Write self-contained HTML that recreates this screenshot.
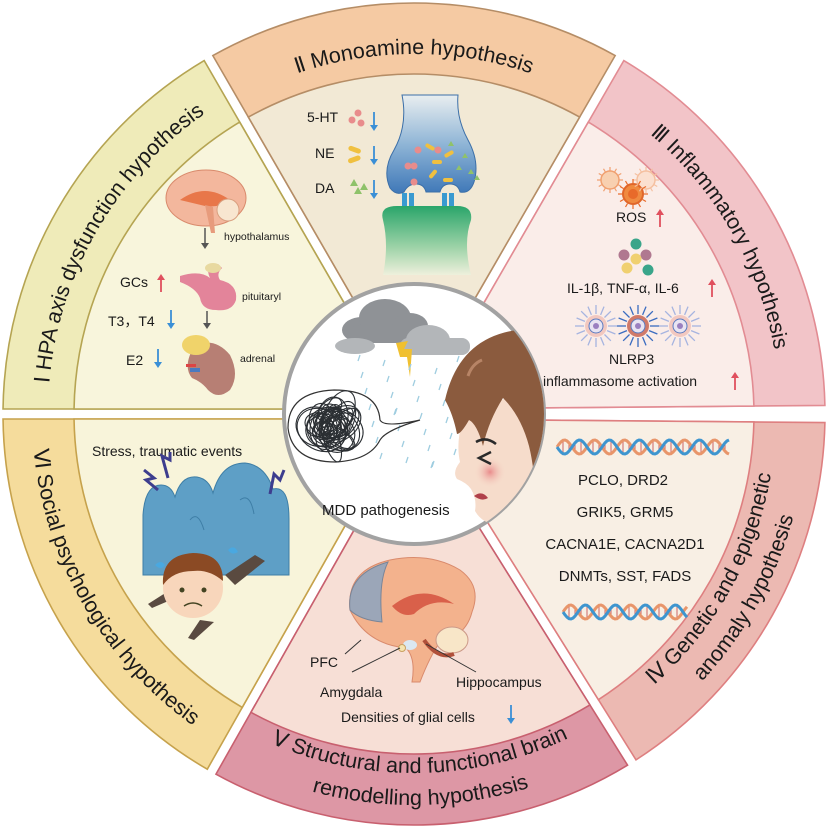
<!DOCTYPE html>
<html><head><meta charset="utf-8">
<style>
html,body{margin:0;padding:0;background:#fff;}
svg{display:block;}
text{font-family:"Liberation Sans","DejaVu Sans",sans-serif;fill:#1a1a1a;}
.t{font-size:21.5px;}
.c{font-size:14px;}
.s{font-size:10.5px;}
</style></head><body>
<svg id="sv" width="830" height="830" viewBox="0 0 830 830" xmlns="http://www.w3.org/2000/svg">
<defs>
<linearGradient id="pre" x1="0" y1="0" x2="0" y2="1"><stop offset="0" stop-color="#e9eef0"/><stop offset="0.5" stop-color="#8fb5d6"/><stop offset="1" stop-color="#3f78b8"/></linearGradient>
<linearGradient id="post" x1="0" y1="0" x2="0" y2="1"><stop offset="0" stop-color="#2aa56a"/><stop offset="0.6" stop-color="#9ed3a8"/><stop offset="1" stop-color="#eef0dc"/></linearGradient>
<radialGradient id="cheek"><stop offset="0" stop-color="#e98b8b"/><stop offset="1" stop-color="#f6dccb" stop-opacity="0"/></radialGradient>
<clipPath id="cc"><circle cx="414" cy="414" r="130"/></clipPath>
</defs>
<g id="sectors"></g>
<g id="titles"></g>

<!-- I HPA content -->
<g>
<ellipse cx="206" cy="198" rx="40" ry="28" fill="#f3b79d" stroke="#d98a6c" stroke-width="1"/>
<path d="M180 200 q25 -18 50 0 q-10 8 -25 6z" fill="#e8774a"/>
<circle cx="228" cy="210" r="11" fill="#f8e6d0" stroke="#d9a080"/>
<path d="M205 205 l6 28 l4 0 l-2 -26z" fill="#e79b7c"/>
<line x1="205" y1="228" x2="205" y2="245" stroke="#555" stroke-width="1.5"/><path d="M201 243 l4 6 l4 -6z" fill="#555"/>
<text class="s" x="224" y="240">hypothalamus</text>
<path d="M180 276 q20 -6 30 2 q-6 -12 8 -14 l4 4 q-6 6 -2 12 q18 4 16 20 q-4 12 -20 10 q-14 0 -16 -12 q-4 -10 -20 -16z" fill="#e3849a"/>
<ellipse cx="213" cy="268" rx="8" ry="5" fill="#e8d9a0"/>
<text class="s" x="242" y="300">pituitaryl</text>
<line x1="207" y1="311" x2="207" y2="325" stroke="#555" stroke-width="1.5"/><path d="M203 323 l4 6 l4 -6z" fill="#555"/>
<path d="M195 345 q20 -8 35 10 q10 20 0 35 q-12 10 -22 0 q-6 -8 -16 -12 q-10 -12 3 -33z" fill="#b77f74"/>
<ellipse cx="196" cy="345" rx="14" ry="10" fill="#f0d36a"/>
<rect x="190" y="368" width="10" height="4" fill="#4a7ac0"/><rect x="186" y="364" width="10" height="3" fill="#d44"/>
<text class="s" x="240" y="362">adrenal</text>
<text class="c" x="120" y="287">GCs</text><path d="M161 292 v-16" stroke="#e0505e" stroke-width="1.8"/><path d="M157 280 l4 -6 l4 6z" fill="#e0505e"/>
<text class="c" x="108" y="326">T3，T4</text><path d="M171 310 v16" stroke="#3a8fd6" stroke-width="1.8"/><path d="M167 323 l4 6 l4 -6z" fill="#3a8fd6"/>
<text class="c" x="126" y="365">E2</text><path d="M158 349 v16" stroke="#3a8fd6" stroke-width="1.8"/><path d="M154 362 l4 6 l4 -6z" fill="#3a8fd6"/>
</g>

<!-- II Monoamine content -->
<g>
<text class="c" x="307" y="122">5-HT</text>
<circle cx="352" cy="120" r="3.5" fill="#e88c8c"/><circle cx="358" cy="113" r="3.5" fill="#e88c8c"/><circle cx="361" cy="123" r="3.5" fill="#e88c8c"/>
<path d="M374 112 v16" stroke="#3a8fd6" stroke-width="1.8"/><path d="M370 125 l4 6 l4 -6z" fill="#3a8fd6"/>
<text class="c" x="315" y="158">NE</text>
<rect x="348" y="147" width="13" height="5" rx="2.5" fill="#f0c040" transform="rotate(20 354 150)"/><rect x="348" y="157" width="13" height="5" rx="2.5" fill="#f0c040" transform="rotate(-20 354 160)"/>
<path d="M374 146 v16" stroke="#3a8fd6" stroke-width="1.8"/><path d="M370 159 l4 6 l4 -6z" fill="#3a8fd6"/>
<text class="c" x="315" y="193">DA</text>
<path d="M350 186 l4 -7 l4 7z M354 194 l4 -7 l4 7z M360 190 l4 -7 l4 7z" fill="#8fc26a"/>
<path d="M374 180 v16" stroke="#3a8fd6" stroke-width="1.8"/><path d="M370 193 l4 6 l4 -6z" fill="#3a8fd6"/>
<path d="M402 95 q6 30 -8 55 q-12 20 -4 38 q6 8 14 4 q4 -8 12 -8 q8 0 10 8 l14 0 q2 -8 10 -8 q8 0 10 8 q10 2 14 -10 q6 -20 -6 -42 q-12 -22 -10 -45z" fill="url(#pre)" stroke="#3c6fa8" stroke-width="1"/>
<circle cx="418" cy="150" r="3.5" fill="#e88c8c"/><circle cx="408" cy="166" r="3.5" fill="#e88c8c"/><circle cx="414" cy="166" r="3.5" fill="#e88c8c"/><circle cx="438" cy="150" r="3.5" fill="#e88c8c"/><circle cx="414" cy="182" r="3.5" fill="#e88c8c"/>
<rect x="425" y="145" width="10" height="4" rx="2" fill="#f0c040" transform="rotate(30 430 147)"/><rect x="432" y="160" width="10" height="4" rx="2" fill="#f0c040"/><rect x="444" y="152" width="10" height="4" rx="2" fill="#f0c040" transform="rotate(-30 449 154)"/><rect x="428" y="172" width="10" height="4" rx="2" fill="#f0c040" transform="rotate(-50 433 174)"/><rect x="443" y="178" width="10" height="4" rx="2" fill="#f0c040"/>
<path d="M448 146 l3 -5 l3 5z M462 158 l3 -5 l3 5z M456 170 l3 -5 l3 5z M468 174 l3 -5 l3 5z M474 180 l3 -5 l3 5z" fill="#8fc26a"/>
<rect x="402" y="193" width="5" height="14" fill="#3a9ad0"/><rect x="409" y="193" width="5" height="14" fill="#3a9ad0"/>
<rect x="442" y="193" width="5" height="14" fill="#3a9ad0"/><rect x="449" y="193" width="5" height="14" fill="#3a9ad0"/>
<path d="M383 275 q6 -30 0 -55 q-4 -14 14 -14 l60 0 q16 0 14 14 q-8 22 0 55z" fill="url(#post)"/>
</g>

<!-- III Inflammatory content -->
<g>
<g stroke="#f0a070" stroke-width="1.5" fill="none"><circle cx="610" cy="180" r="9" fill="#f8d0b0"/><circle cx="646" cy="180" r="9" fill="#fbe0d0" stroke="#f5c0a0"/></g>
<circle cx="633" cy="194" r="10" fill="#f08a40" stroke="#e0662a" stroke-width="2"/><circle cx="633" cy="194" r="5" fill="#e86a2a"/>
<g stroke="#f0a070" stroke-width="1.2" id="rays"></g>
<text class="c" x="616" y="222">ROS</text><path d="M660 227 v-16" stroke="#e0505e" stroke-width="1.8"/><path d="M656 215 l4 -6 l4 6z" fill="#e0505e"/>
<circle cx="636" cy="244" r="5.5" fill="#3aa58a"/><circle cx="624" cy="255" r="5.5" fill="#b07890"/><circle cx="646" cy="255" r="5.5" fill="#b07890"/><circle cx="636" cy="259" r="5.5" fill="#f0d070"/><circle cx="627" cy="268" r="5.5" fill="#f0d070"/><circle cx="648" cy="270" r="5.5" fill="#3aa58a"/>
<text class="c" x="567" y="293">IL-1β, TNF-α, IL-6</text><path d="M712 297 v-16" stroke="#e0505e" stroke-width="1.8"/><path d="M708 285 l4 -6 l4 6z" fill="#e0505e"/>
<g id="spk"></g>
<text class="c" x="609" y="364">NLRP3</text>
<text class="c" x="543" y="386">inflammasome activation</text><path d="M735 390 v-16" stroke="#e0505e" stroke-width="1.8"/><path d="M731 378 l4 -6 l4 6z" fill="#e0505e"/>
</g>

<!-- IV Genetic content -->
<g>
<g id="dna1"></g><g id="dna2"></g>
<text class="c" x="623" y="485" text-anchor="middle" style="font-size:15px">PCLO, DRD2</text>
<text class="c" x="625" y="517" text-anchor="middle" style="font-size:15px">GRIK5, GRM5</text>
<text class="c" x="625" y="549" text-anchor="middle" style="font-size:15px">CACNA1E, CACNA2D1</text>
<text class="c" x="625" y="581" text-anchor="middle" style="font-size:15px">DNMTs, SST, FADS</text>
</g>

<!-- V brain content -->
<g>
<path d="M350 610 q-4 -40 40 -50 q40 -8 70 10 q22 16 12 42 q-6 24 -32 30 q-10 14 -20 40 l-8 0 q4 -24 -6 -34 q-40 -4 -56 -38z" fill="#f3b28d" stroke="#d98a6c"/>
<path d="M350 610 q-4 -36 38 -48 q-10 20 -6 60 q-22 -2 -32 -12z" fill="#9ba6b8" stroke="#7a8598"/>
<path d="M392 606 q30 -24 62 -2 q-24 -6 -40 10 q-12 4 -22 -8z" fill="#d9604a"/>
<ellipse cx="452" cy="640" rx="16" ry="13" fill="#f8e6c8" stroke="#c98"/>
<path d="M424 640 q14 20 30 14" stroke="#b0503a" stroke-width="4" fill="none"/>
<ellipse cx="410" cy="645" rx="7" ry="5" fill="#dbe8f2"/><circle cx="402" cy="648" r="3.5" fill="#f5e4b0" stroke="#c9a060"/>
<path d="M345 654 l16 -14 M352 672 l48 -24 M476 672 l-50 -28" stroke="#333" stroke-width="1"/>
<text class="c" x="310" y="667">PFC</text>
<text class="c" x="320" y="697">Amygdala</text>
<text class="c" x="456" y="687">Hippocampus</text>
<text class="c" x="341" y="722">Densities of glial cells</text><path d="M511 705 v16" stroke="#3a8fd6" stroke-width="1.8"/><path d="M507 718 l4 6 l4 -6z" fill="#3a8fd6"/>
</g>

<!-- VI social content -->
<g>
<text class="c" x="92" y="456">Stress, traumatic events</text>
<path d="M143 575 l0 -60 q2 -30 18 -30 q10 0 14 12 q6 -22 22 -20 q12 2 16 16 q8 -30 32 -30 q20 2 28 26 q16 -4 16 30 l0 56z" fill="#5e9fc6" stroke="#3e7ea6"/>
<path d="M190 520 q8 -10 14 10 M240 500 q10 -8 14 14" stroke="#3e7ea6" fill="none"/>
<path d="M158 490 l-12 -10 l8 -2 l-10 -8 M168 478 l-6 -22 l8 4 l0 -8 M270 494 l4 -20 l6 6 l4 -10" stroke="#3d3d8e" stroke-width="3" fill="none"/>
<path d="M170 590 l-22 14 l4 4 l28 -12z M200 620 l-12 18 l6 2 l20 -18z M225 575 l30 -20 l10 6 l-30 24z" fill="#5a4a40"/>
<circle cx="193" cy="588" r="30" fill="#f8d6bb"/>
<path d="M163 585 q-2 -30 30 -32 q30 0 30 28 q-14 -12 -30 -10 q-20 0 -30 14z" fill="#8b4a24"/>
<circle cx="182" cy="590" r="2.5" fill="#442"/><circle cx="204" cy="590" r="2.5" fill="#442"/>
<path d="M184 606 q9 -6 18 0" stroke="#442" fill="none" stroke-width="1.5"/>
<path d="M155 565 q6 -6 10 0 q-4 6 -10 0z M228 550 q6 -6 10 2 q-6 4 -10 -2z" fill="#4aa8e0"/>
</g>

<!-- center -->
<circle cx="414" cy="414" r="130" fill="#fff" stroke="#a2a2a2" stroke-width="4"/>
<g clip-path="url(#cc)">
<g fill="#8f9296"><ellipse cx="362" cy="330" rx="20" ry="13"/><ellipse cx="385" cy="318" rx="26" ry="19"/><ellipse cx="410" cy="326" rx="18" ry="13"/><rect x="350" y="325" width="75" height="18" rx="9"/></g>
<g fill="#b3b6b9"><ellipse cx="428" cy="340" rx="22" ry="15"/><rect x="400" y="338" width="70" height="17" rx="8"/><ellipse cx="355" cy="346" rx="20" ry="8"/></g>
<path d="M396 343 l12 -2 l-4 8 l8 0 l-2 28 l-3 -20 l-7 0 z" fill="#f0c030"/>
<g stroke="#9fcde0" stroke-width="1.3" id="rain"></g>
<path d="M380 440 q-10 20 -44 22 q-44 0 -48 -34 q0 -36 46 -38 q44 0 46 30 q4 8 40 0 q-34 10 -40 20z" fill="none" stroke="#333" stroke-width="1.2"/>
<g id="scr" fill="none" stroke="#2b2f33" stroke-width="1.1"></g>
<path d="M462 422 q-6 22 -2 40 q-8 10 -3 17 q10 4 14 10 q6 10 4 22 q8 14 26 14 l50 10 l0 -160 l-40 20 z" fill="#f6dccb"/>
<circle cx="490" cy="472" r="16" fill="url(#cheek)"/>
<path d="M445 400 q14 -62 72 -70 l50 -4 l0 240 l-32 0 q4 -80 -6 -120 q-8 -30 -26 -48 q-14 22 -20 48 q-6 -22 -14 -26 q-8 14 -12 14 q-4 -20 -12 -34z" fill="#8b5b3e"/>
<path d="M482 360 q-10 4 -14 16" stroke="#b78466" stroke-width="3" fill="none"/>
<path d="M476 442 q10 -6 20 2 M491 452 l-12 6 l12 6" stroke="#2a2a2a" stroke-width="2.5" fill="none"/>
<path d="M474 496 q8 -6 14 2 q-6 4 -14 -2z" fill="#b0404a"/>
</g>
<text x="322" y="515" style="font-size:15px">MDD pathogenesis</text>
</svg>
<script>
var cx=414,cy=414,NS="http://www.w3.org/2000/svg";
function pt(r,a){a=a*Math.PI/180;return [cx+r*Math.cos(a),cy+r*Math.sin(a)];}
function off(r,a,d,s){var A=a*Math.PI/180,u=[Math.cos(A),Math.sin(A)],n=s>0?[-u[1],u[0]]:[u[1],-u[0]];var t=Math.sqrt(r*r-d*d);return [cx+d*n[0]+t*u[0],cy+d*n[1]+t*u[1]];}
function wedge(a1,a2,r0,r1,d){var p1=off(r1,a1,d,1),p2=off(r1,a2,d,-1),p3=off(r0,a2,d,-1),p4=off(r0,a1,d,1);
return "M"+p1+" A"+r1+" "+r1+" 0 0 1 "+p2+" L"+p3+" A"+r0+" "+r0+" 0 0 0 "+p4+"Z";}
function el(tag,at,par){var e=document.createElementNS(NS,tag);for(var k in at)e.setAttribute(k,at[k]);(par||document.getElementById("sv")).appendChild(e);return e;}
var S=[[180,240,"#efebb9","#b5a452","#f8f5dc"],[240,300,"#f5caa3","#b58d66","#f2e9d5"],[300,359.5,"#f2c4c8","#e28c93","#faede9"],[0.5,58,"#ecb9b2","#de7f80","#f8efe4"],[58,119.5,"#dd97a5","#c8606f","#f7dfd6"],[119.5,180,"#f5dc9c","#c6a24c","#f8f4da"]];
var g=document.getElementById("sectors");
S.forEach(function(s){el("path",{d:wedge(s[0],s[1],120,411,5),fill:s[2],stroke:s[3],"stroke-width":1.6},g);el("path",{d:wedge(s[0],s[1],120,340,5),fill:s[4],stroke:s[3],"stroke-width":1.6},g);});
var tg=document.getElementById("titles"),id=0;
function title(a1,a2,r,cw,txt){id++;var d;if(cw){d="M"+pt(r,a1)+" A"+r+" "+r+" 0 0 1 "+pt(r,a2);}else{d="M"+pt(r,a2)+" A"+r+" "+r+" 0 0 0 "+pt(r,a1);}
el("path",{id:"tp"+id,d:d,fill:"none"},tg);var t=el("text",{"class":"t","text-anchor":"middle"},tg);var tp=el("textPath",{href:"#tp"+id,startOffset:"50%"},t);tp.setAttributeNS("http://www.w3.org/1999/xlink","xlink:href","#tp"+id);tp.textContent=txt;}
title(175,245,366,1,"Ⅰ HPA axis dysfunction hypothesis");
title(235,305,360,1,"Ⅱ Monoamine hypothesis");
title(295,365,366,1,"Ⅲ Inflammatory hypothesis");
title(-5,63,362,0,"Ⅳ Genetic and epigenetic");
title(-5,63,393,0,"anomaly hypothesis");
title(55,123,359,0,"Ⅴ Structural and functional brain");
title(55,123,391,0,"remodelling hypothesis");
title(115,185,382,0,"Ⅵ Social psychological hypothesis");
var rg=document.getElementById("rays");
[[610,180,13,"#f0a070"],[646,180,13,"#f5c0a0"],[633,194,15,"#e86a2a"]].forEach(function(c){for(var i=0;i<12;i++){var a=i*Math.PI/6;el("line",{x1:c[0]+ (c[2]-4)*Math.cos(a),y1:c[1]+(c[2]-4)*Math.sin(a),x2:c[0]+c[2]*Math.cos(a),y2:c[1]+c[2]*Math.sin(a),stroke:c[3]},rg);}});
var sg=document.getElementById("spk");
[[596,326,"#a6b4e0","#f2c8c0"],[638,326,"#3a6cc0","#d07a6a"],[680,326,"#a6b4e0","#f2c8c0"]].forEach(function(c){for(var i=0;i<16;i++){var a=i*Math.PI/8;el("line",{x1:c[0]+12*Math.cos(a),y1:c[1]+12*Math.sin(a),x2:c[0]+21*Math.cos(a),y2:c[1]+21*Math.sin(a),stroke:c[2],"stroke-width":1.3},sg);}
el("circle",{cx:c[0],cy:c[1],r:11,fill:c[3]},sg);el("circle",{cx:c[0],cy:c[1],r:7,fill:"#e8e4f2",stroke:"#5a7ac0"},sg);el("circle",{cx:c[0],cy:c[1],r:3,fill:"#9a80c0"},sg);});
function dna(gid,x0,x1,y){var gg=document.getElementById(gid),a="",b="";for(var x=x0;x<=x1;x+=2){var ph=(x-x0)/30*2*Math.PI;var ya=y+7*Math.sin(ph),yb=y-7*Math.sin(ph);a+=(x==x0?"M":"L")+x+" "+ya;b+=(x==x0?"M":"L")+x+" "+yb;if((x-x0)%6==0)el("line",{x1:x,y1:ya,x2:x,y2:yb,stroke:(x%12?"#c66":"#69c"),"stroke-width":1},gg);}
el("path",{d:b,stroke:"#e8956a","stroke-width":3,fill:"none"},gg);el("path",{d:a,stroke:"#3e95cf","stroke-width":3,fill:"none"},gg);}
dna("dna1",557,730,447);dna("dna2",563,688,612);
var rn=document.getElementById("rain");
for(var i=0;i<30;i++){var x=360+((i*37)%100),y=355+((i*53)%110);el("line",{x1:x,y1:y,x2:x-2,y2:y+6},rn);}
var sc=document.getElementById("scr"),seed=3;function R(){seed=(seed*9301+49297)%233280;return seed/233280;}
for(var i=0;i<34;i++){el("ellipse",{cx:332+(R()-0.5)*26,cy:425+(R()-0.5)*22,rx:8+R()*18,ry:7+R()*14,transform:"rotate("+(R()*180)+" 332 425)"},sc);}
</script>
</body></html>
